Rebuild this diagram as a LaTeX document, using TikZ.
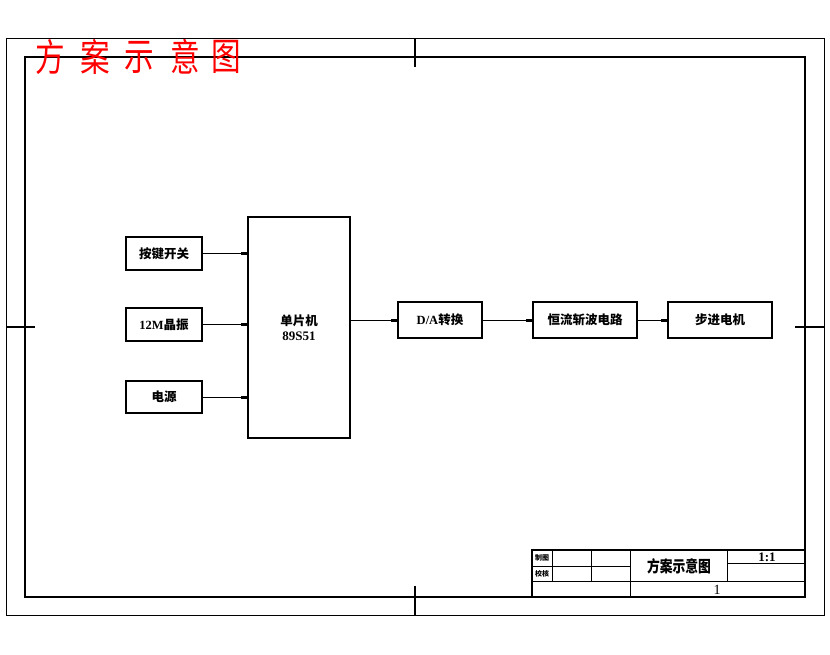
\documentclass[tikz,border=0pt]{standalone}
\usepackage{fontspec}
\newfontfamily\cjk{Noto Sans CJK SC}
\newfontfamily\lat{Liberation Serif}
\usetikzlibrary{arrows.meta}
\begin{document}
\begin{tikzpicture}[x=1pt,y=-1pt,
  blk/.style={draw,line width=1.7pt,inner sep=0pt,font=\cjk\bfseries\fontsize{12.5}{14}\selectfont},
  conn/.style={line width=0.8pt,-{Rectangle[length=6pt,width=2.6pt]}},
  thin/.style={line width=0.8pt},
  bigred/.style={text=red,font=\cjk\fontsize{38}{40}\selectfont,xscale=0.78,inner sep=0pt}]
\useasboundingbox (0,0) rectangle (830,654);
\fill[white] (0,0) rectangle (830,654);
% frames
\draw[line width=0.8pt] (6,38) rectangle (824,615);
\draw[line width=2pt] (25,57) rectangle (805,597);
\draw[line width=2pt] (415,38) -- (415,67);
\draw[line width=2pt] (415,586) -- (415,615);
\draw[line width=2pt] (6,326.5) -- (35,326.5);
\draw[line width=2pt] (795,326.5) -- (824,326.5);
% red title
\node[bigred] (t1) at (50,57) {方};
\node[bigred] (t2) at (95,57) {案};
\node[bigred] (t3) at (139,57) {示};
\node[bigred] (t4) at (185,57) {意};
\node[bigred] (t5) at (226,57) {图};
% blocks
\node[blk,minimum width=76pt,minimum height=33pt] (kbd) at (164,253.5) {按键开关};
\node[blk,minimum width=76pt,minimum height=33pt] (xtal) at (164,324.5) {{\lat\bfseries 12M}晶振};
\node[blk,minimum width=76pt,minimum height=32pt] (pwr) at (164,397) {电源};
\node[blk,minimum width=102pt,minimum height=221pt,align=center] (mcu) at (299,327.5) {单片机\\[1pt]{\lat\bfseries\fontsize{13}{14}\selectfont 89S51}};
\node[blk,minimum width=84pt,minimum height=36pt] (da) at (440,320) {{\lat\bfseries D/A}转换};
\node[blk,minimum width=104pt,minimum height=36pt] (hl) at (585,320) {恒流斩波电路};
\node[blk,minimum width=104pt,minimum height=36pt] (mot) at (720,320) {步进电机};
% connectors
\draw[conn] (kbd.east) -- (kbd.east -| mcu.west);
\draw[conn] (xtal.east) -- (xtal.east -| mcu.west);
\draw[conn] (pwr.east) -- (pwr.east -| mcu.west);
\draw[conn] (mcu.east |- da.west) -- (da.west);
\draw[conn] (da.east) -- (hl.west);
\draw[conn] (hl.east) -- (mot.west);
% title block
\draw[line width=1.4pt] (805,550) -- (532,550) -- (532,597);
\draw[thin] (532,566) -- (630,566);
\draw[thin] (532,581.5) -- (805,581.5);
\draw[thin] (727.5,563) -- (805,563);
\draw[thin] (552,550) -- (552,581.5);
\draw[thin] (591,550) -- (591,581.5);
\draw[thin] (630,550) -- (630,597);
\draw[thin] (727.5,550) -- (727.5,581.5);
\node[font=\cjk\bfseries\fontsize{7}{8}\selectfont,inner sep=0pt] (zt) at (542,558) {制图};
\node[font=\cjk\bfseries\fontsize{7}{8}\selectfont,inner sep=0pt] (jh) at (542,574) {校核};
\node[font=\cjk\bfseries\fontsize{16}{18}\selectfont,xscale=0.8,inner sep=0pt] (tb) at (679,566) {方案示意图};
\node[font=\lat\bfseries\fontsize{13}{14}\selectfont,inner sep=0pt] (sc) at (767,557) {1:1};
\node[font=\lat\fontsize{14}{15}\selectfont,inner sep=0pt] (pg) at (717,590) {1};
\end{tikzpicture}
\end{document}
